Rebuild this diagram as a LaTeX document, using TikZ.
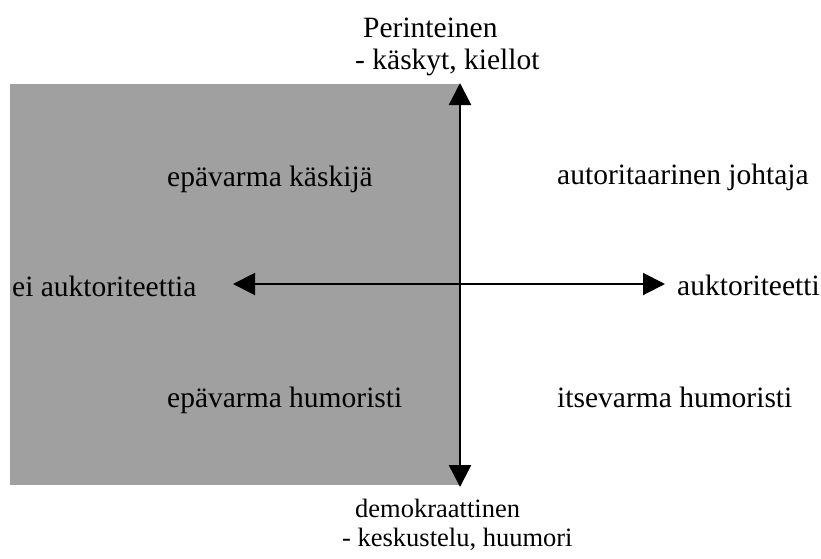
\documentclass[tikz,border=0pt]{standalone}
\usepackage{fontspec}
\setmainfont{Liberation Serif}
\usetikzlibrary{arrows.meta}
\definecolor{quadgray}{RGB}{160,160,160}
\tikzset{
  lbl/.style={inner sep=0pt, anchor=base west, font=\fontsize{29.5}{33}\selectfont},
  lblsmall/.style={inner sep=0pt, anchor=base west, font=\fontsize{26.5}{30}\selectfont},
  axis/.style={line width=2.5pt, {Triangle[length=22pt,width=22pt]}-{Triangle[length=22pt,width=22pt]}},
}
\begin{document}
\begin{tikzpicture}[x=1pt,y=-1pt]
\useasboundingbox (0,0) rectangle (821,558);
\fill[quadgray] (10,84) rectangle (459,485);
\coordinate (top) at (460,83);
\coordinate (bot) at (460,487);
\coordinate (left) at (233,284);
\coordinate (right) at (665,284);
\draw[axis] (bot) -- (top);
\draw[axis, line width=2pt] (left) -- (right);
\node[lbl] (p1) at (363,37) {Perinteinen};
\node[lbl] (p2) at (355,69) {- käskyt, kiellot};
\node[lbl] (q1) at (167,186) {epävarma käskijä};
\node[lbl] (q2) at (557,184) {autoritaarinen johtaja};
\node[lbl] (ea) at (12,296) {ei auktoriteettia};
\node[lbl] (a) at (677,295) {auktoriteetti};
\node[lbl] (q3) at (167,407) {epävarma humoristi};
\node[lbl] (q4) at (557,407) {itsevarma humoristi};
\node[lblsmall] (d1) at (355,517) {demokraattinen};
\node[lblsmall] (d2) at (342,546) {- keskustelu, huumori};
\end{tikzpicture}
\end{document}
